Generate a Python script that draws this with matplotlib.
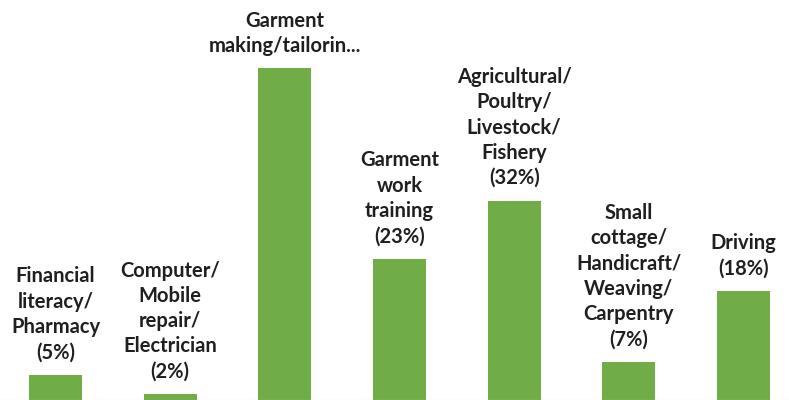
import matplotlib
matplotlib.use("Agg")
import matplotlib.pyplot as plt

# data
labels = [
    "Financial\nliteracy/\nPharmacy\n(5%)",
    "Computer/\nMobile\nrepair/\nElectrician\n(2%)",
    "Garment\nmaking/tailorin...",
    "Garment\nwork\ntraining\n(23%)",
    "Agricultural/\nPoultry/\nLivestock/\nFishery\n(32%)",
    "Small\ncottage/\nHandicraft/\nWeaving/\nCarpentry\n(7%)",
    "Driving\n(18%)",
]
values = [5, 2, 52.5, 23, 32, 7, 18]

plt.rcParams['font.family'] = ['Lato', 'DejaVu Sans']

fig = plt.figure(figsize=(7.89, 4.0), dpi=100)
ax = fig.add_axes([0, 0, 1, 1])

x = range(len(values))
ax.bar(x, values, width=0.46, color="#70AD47", zorder=2)

for i, (v, lab) in enumerate(zip(values, labels)):
    ax.annotate(lab, xy=(i, v), xytext=(0, 9), textcoords="offset points",
                ha="center", va="bottom", fontsize=14.5, fontweight="bold",
                color="#1f1f1f", linespacing=1.33)

ax.set_xlim(-0.484, 6.397)
ax.set_ylim(1.1, 63.1)
for s in ["top", "left", "right"]:
    ax.spines[s].set_visible(False)
ax.spines["bottom"].set_color("#d9d9d9")
ax.set_xticks([])
ax.set_yticks([])

fig.savefig("out.png", dpi=100)
